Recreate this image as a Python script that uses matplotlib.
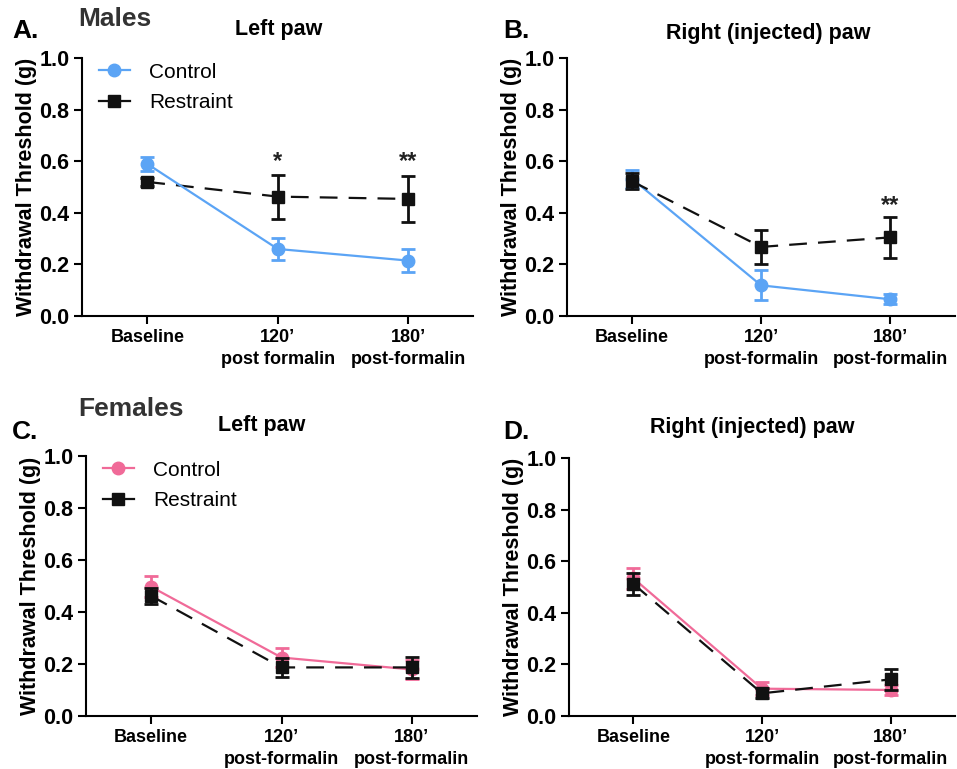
import matplotlib.pyplot as plt
from matplotlib.lines import Line2D

plt.rcParams['font.family'] = ['Liberation Sans', 'DejaVu Sans']

# x categories
timepoints = ["Baseline", "120’\npost formalin", "180’\npost-formalin"]
timepoints_b = ["Baseline", "120’\npost-formalin", "180’\npost-formalin"]

# males, left paw (A)
male_left_ctrl = [0.59, 0.26, 0.215]
male_left_ctrl_err = [0.026, 0.043, 0.046]
male_left_rest = [0.52, 0.463, 0.454]
male_left_rest_err = [0.015, 0.085, 0.088]

# males, right paw (B)
male_right_ctrl = [0.533, 0.119, 0.065]
male_right_ctrl_err = [0.035, 0.058, 0.02]
male_right_rest = [0.523, 0.268, 0.305]
male_right_rest_err = [0.03, 0.066, 0.079]

# females, left paw (C)
fem_left_ctrl = [0.497, 0.225, 0.179]
fem_left_ctrl_err = [0.04, 0.035, 0.036]
fem_left_rest = [0.462, 0.187, 0.187]
fem_left_rest_err = [0.032, 0.038, 0.04]

# females, right paw (D)
fem_right_ctrl = [0.534, 0.106, 0.101]
fem_right_ctrl_err = [0.04, 0.025, 0.02]
fem_right_rest = [0.512, 0.088, 0.142]
fem_right_rest_err = [0.043, 0.02, 0.042]

# significance marks (x index, y, text)
stars_a = [(1, 0.6, "*"), (2, 0.6, "**")]
stars_b = [(2, 0.43, "**")]

BLUE = "#5BA4F5"
PINK = "#F06A98"

fig = plt.figure(figsize=(9.57, 7.69), dpi=100)
axA = fig.add_axes([0.0857, 0.589, 0.409, 0.3355])
axB = fig.add_axes([0.5925, 0.589, 0.4055, 0.3355])
axC = fig.add_axes([0.0899, 0.0689, 0.4086, 0.338])
axD = fig.add_axes([0.5946, 0.0689, 0.4033, 0.3355])


def panel(ax, ctrl, ctrl_err, rest, rest_err, ccol, labels, ctrl_top=False, legend=False):
    x = range(len(labels))
    zc, zr = (4, 3) if ctrl_top else (3, 4)
    ax.errorbar(x, ctrl, yerr=ctrl_err, color=ccol, marker="o", ms=9, lw=1.6,
                capsize=5, capthick=2, elinewidth=2, zorder=zc)
    ax.errorbar(x, rest, yerr=rest_err, color="#111111", marker="s", ms=8.5, lw=1.6,
                ls=(0, (8, 5)), capsize=5, capthick=2, elinewidth=2, zorder=zr)
    ax.set_xlim(-0.5, 2.5)
    ax.set_ylim(0, 1.0)
    ax.set_yticks([0, 0.2, 0.4, 0.6, 0.8, 1.0])
    ax.set_yticklabels(["0.0", "0.2", "0.4", "0.6", "0.8", "1.0"])
    ax.set_xticks(list(x))
    ax.set_xticklabels(labels, fontsize=13, fontweight="bold", linespacing=1.4)
    for lab in ax.get_yticklabels():
        lab.set_fontweight("bold")
        lab.set_fontsize(15.5)
    ax.set_ylabel("Withdrawal Threshold (g)", fontsize=15.5, fontweight="bold", labelpad=2)
    ax.spines["top"].set_visible(False)
    ax.spines["right"].set_visible(False)
    ax.spines["left"].set_linewidth(1.5)
    ax.spines["bottom"].set_linewidth(1.5)
    ax.tick_params(width=1.5, length=6, pad=3)
    if legend:
        handles = [Line2D([], [], color=ccol, marker="o", ms=9, lw=1.6),
                   Line2D([], [], color="#111111", marker="s", ms=8.5, lw=1.6)]
        ax.legend(handles, ["Control", "Restraint"], loc="upper left",
                  bbox_to_anchor=(-0.005, 1.055), frameon=False, fontsize=15,
                  handlelength=1.5, handletextpad=0.9, labelspacing=0.55)


panel(axA, male_left_ctrl, male_left_ctrl_err, male_left_rest, male_left_rest_err,
      BLUE, timepoints, ctrl_top=True, legend=True)
panel(axB, male_right_ctrl, male_right_ctrl_err, male_right_rest, male_right_rest_err,
      BLUE, timepoints_b)
panel(axC, fem_left_ctrl, fem_left_ctrl_err, fem_left_rest, fem_left_rest_err,
      PINK, timepoints_b, legend=True)
panel(axD, fem_right_ctrl, fem_right_ctrl_err, fem_right_rest, fem_right_rest_err,
      PINK, timepoints_b)

for xi, yi, s in stars_a:
    axA.text(xi, yi, s, ha="center", va="center", fontsize=17, fontweight="bold", color="#222222")
for xi, yi, s in stars_b:
    axB.text(xi, yi, s, ha="center", va="center", fontsize=17, fontweight="bold", color="#222222")

# titles and panel letters
fig.text(279 / 957, 1 - 30 / 769, "Left paw", ha="center", va="center", fontsize=15.5, fontweight="bold")
fig.text(768 / 957, 1 - 33 / 769, "Right (injected) paw", ha="center", va="center", fontsize=15.5, fontweight="bold")
fig.text(262 / 957, 1 - 425 / 769, "Left paw", ha="center", va="center", fontsize=15.5, fontweight="bold")
fig.text(752 / 957, 1 - 427 / 769, "Right (injected) paw", ha="center", va="center", fontsize=15.5, fontweight="bold")

fig.text(12 / 957, 1 - 31 / 769, "A.", ha="left", va="center", fontsize=19, fontweight="bold")
fig.text(503 / 957, 1 - 31 / 769, "B.", ha="left", va="center", fontsize=19, fontweight="bold")
fig.text(12 / 957, 1 - 432 / 769, "C.", ha="left", va="center", fontsize=19, fontweight="bold")
fig.text(503 / 957, 1 - 432 / 769, "D.", ha="left", va="center", fontsize=19, fontweight="bold")

fig.text(78 / 957, 1 - 19 / 769, "Males", ha="left", va="center", fontsize=19, fontweight="bold", color="#333333")
fig.text(78 / 957, 1 - 409 / 769, "Females", ha="left", va="center", fontsize=19, fontweight="bold", color="#333333")

plt.savefig("out.png", dpi=100)
plt.close()
